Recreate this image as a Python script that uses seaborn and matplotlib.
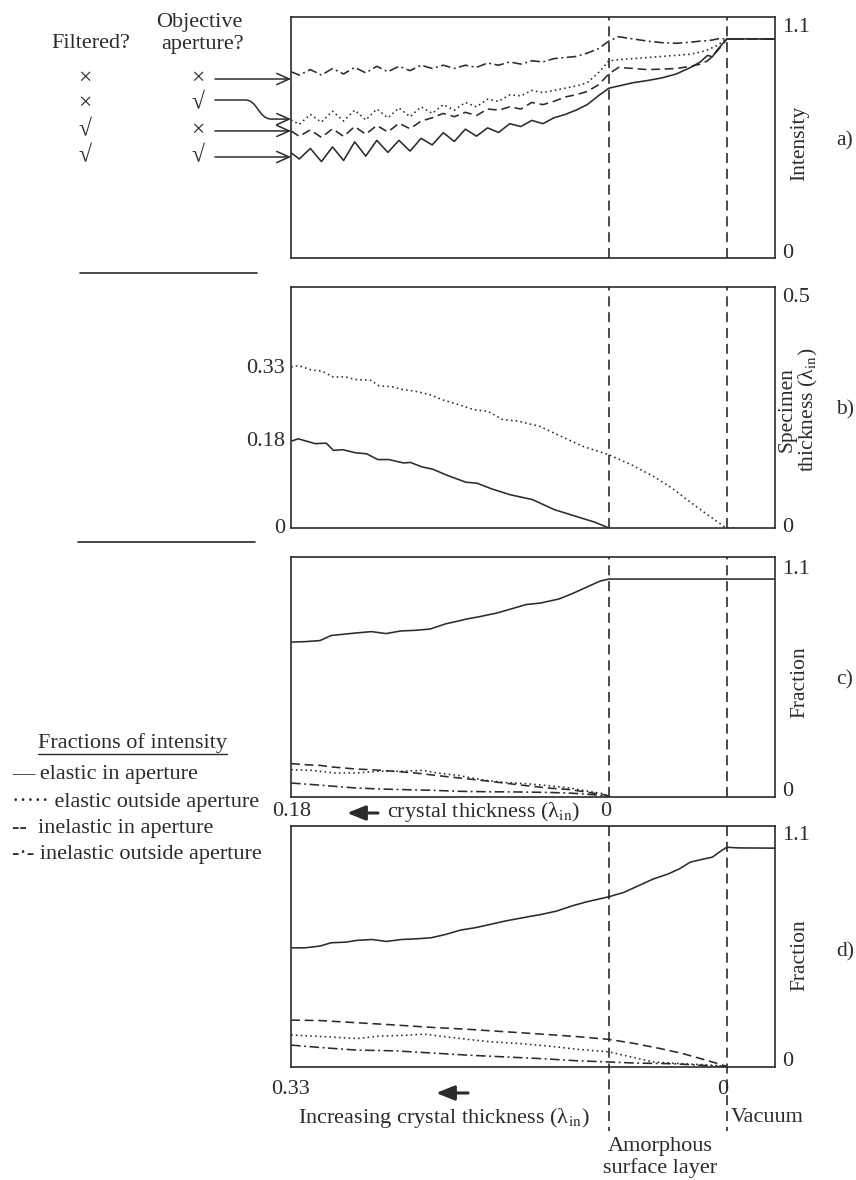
import numpy as np
import pandas as pd
import matplotlib
matplotlib.use("Agg")
import matplotlib.pyplot as plt
import seaborn as sns
from matplotlib.path import Path
from matplotlib.patches import FancyArrowPatch
from matplotlib.lines import Line2D

# ---------------- data (position across the specimen edge, arbitrary units) -------------
BOUNDARIES = [66.0, 90.5]          # crystal | amorphous layer | vacuum
X_MAX = 100.5

# Panel a: image intensity
xa = [0, 1.7, 4.0, 6.3, 8.6, 10.9, 13.2, 15.5, 17.8, 20.1, 22.4, 24.7, 27.0, 29.3, 31.6,
      33.9, 36.2, 38.5, 40.8, 43.1, 45.4, 47.7, 50.0, 52.3, 54.6, 56.9, 59.2, 61.5, 63.8,
      66.0, 68, 71, 74, 77, 80, 83, 85, 86.5, 87.5, 88.5, 89.5, 90.5, 100.5]
a_unfilt_noap = [0.85, 0.835, 0.86, 0.835, 0.865, 0.84, 0.87, 0.845, 0.875, 0.85, 0.875, 0.855,
                 0.88, 0.865, 0.88, 0.865, 0.88, 0.87, 0.89, 0.88, 0.895, 0.885, 0.90, 0.895,
                 0.91, 0.915, 0.92, 0.935, 0.955, 0.99, 1.01, 1.0, 0.99, 0.983, 0.98, 0.985,
                 0.99, 0.992, 0.995, 1.0, 1.0, 1.0, 1.0]
a_unfilt_ap = [0.63, 0.61, 0.655, 0.62, 0.67, 0.625, 0.675, 0.63, 0.68, 0.64, 0.685, 0.645,
               0.69, 0.66, 0.70, 0.675, 0.71, 0.69, 0.725, 0.715, 0.745, 0.74, 0.765, 0.755,
               0.765, 0.775, 0.785, 0.80, 0.845, 0.90, 0.905, 0.91, 0.915, 0.92, 0.925, 0.93,
               0.94, 0.95, 0.96, 0.97, 0.985, 1.0, 1.0]
a_filt_noap = [0.58, 0.555, 0.585, 0.55, 0.59, 0.555, 0.60, 0.565, 0.605, 0.575, 0.615, 0.59,
               0.625, 0.64, 0.66, 0.645, 0.665, 0.65, 0.68, 0.675, 0.69, 0.68, 0.71, 0.70,
               0.715, 0.735, 0.745, 0.76, 0.79, 0.84, 0.87, 0.865, 0.86, 0.862, 0.865, 0.875,
               0.885, 0.90, 0.92, 0.945, 0.97, 1.0, 1.0]
a_filt_ap = [0.48, 0.452, 0.50, 0.44, 0.507, 0.445, 0.53, 0.465, 0.537, 0.482, 0.537, 0.488,
             0.546, 0.516, 0.572, 0.532, 0.588, 0.556, 0.594, 0.573, 0.613, 0.60, 0.628, 0.613,
             0.64, 0.655, 0.675, 0.70, 0.74, 0.775, 0.785, 0.80, 0.81, 0.822, 0.84, 0.87,
             0.895, 0.925, 0.918, 0.95, 0.975, 1.0, 1.0]
FILTERED = ["\u00d7", "\u00d7", "\u221a", "\u221a"]
APERTURE = ["\u00d7", "\u221a", "\u00d7", "\u221a"]
ARROW_LEVELS = [0.817, 0.634, 0.58, 0.461]   # where the four arrows meet the axis

# Panel b: specimen thickness
xb_cryst = [0, 1.5, 5, 7.3, 8.8, 10.7, 13.4, 15.7, 18, 20.3, 23.3, 24.8, 27.1, 29.4, 32.5,
            36.3, 38.6, 41.7, 45.5, 50.1, 54.7, 59.2, 63.1, 66]
b_cryst = [0.18, 0.185, 0.175, 0.176, 0.161, 0.1625, 0.156, 0.154, 0.142, 0.142, 0.135,
           0.136, 0.127, 0.122, 0.109, 0.095, 0.093, 0.081, 0.069, 0.059, 0.038, 0.024,
           0.012, 0.0]
xb_total = [0, 1.5, 4.2, 6.5, 8.8, 11.1, 13.4, 16.4, 18.3, 21, 23.3, 25.6, 28.7, 31.7, 34.8,
            37.9, 40.9, 43.9, 47, 51.6, 56.1, 60.7, 66, 70.7, 75.3, 79.1, 82.2, 86, 89.8,
            90.5, 92.5]
b_total = [0.334, 0.337, 0.328, 0.325, 0.313, 0.314, 0.308, 0.307, 0.295, 0.293, 0.287,
           0.284, 0.277, 0.265, 0.256, 0.2455, 0.242, 0.225, 0.222, 0.211, 0.19, 0.169,
           0.152, 0.131, 0.107, 0.083, 0.059, 0.031, 0.004, 0.0, 0.0]
B_LEFT_TICKS = [0.33, 0.18, 0.0]
B_LEFT_LABELS = ["0.33", "0.18", "0"]

# Panel c: fractions, no amorphous layer
xc_el_in = [0, 2.9, 6, 8.3, 11.3, 13.6, 16.7, 19.7, 22.8, 25.8, 28.9, 32, 35, 36.5, 38.8,
            42.7, 45.7, 48.8, 51.8, 55.7, 58.7, 61.8, 64.1, 66, 100.5]
c_el_in = [0.71, 0.712, 0.717, 0.74, 0.747, 0.752, 0.758, 0.749, 0.761, 0.764, 0.77, 0.793,
           0.808, 0.816, 0.825, 0.843, 0.862, 0.882, 0.889, 0.908, 0.935, 0.966, 0.989,
           0.999, 0.999]
xc_in_in = [0, 2.9, 6, 8.3, 13.6, 16.7, 21.3, 25.8, 30.4, 35, 39.6, 44.2, 48.8, 53.4, 57.9,
            61.8, 64.8, 66]
c_in_in = [0.153, 0.148, 0.145, 0.138, 0.128, 0.125, 0.118, 0.11, 0.098, 0.087, 0.076, 0.064,
           0.052, 0.041, 0.034, 0.021, 0.011, 0.004]
xc_el_out = [0, 4.4, 9.0, 13.6, 18.2, 22.8, 27.4, 30.4, 35, 39.6, 44.2, 48.8, 53.4, 57.9,
             61.8, 64.8, 66]
c_el_out = [0.125, 0.122, 0.11, 0.11, 0.118, 0.118, 0.122, 0.11, 0.098, 0.079, 0.067, 0.061,
            0.052, 0.041, 0.026, 0.015, 0.004]
xc_in_out = [0, 4.4, 9.0, 13.6, 18.2, 22.8, 28.9, 35, 41.1, 47.2, 53.4, 57.9, 62.5, 66]
c_in_out = [0.064, 0.057, 0.049, 0.041, 0.037, 0.034, 0.031, 0.026, 0.024, 0.023, 0.021,
            0.018, 0.011, 0.003]

# Panel d: fractions, with amorphous layer
xd_el_in = [0, 2.9, 6, 8.3, 11.4, 13.7, 16.8, 19.8, 22.9, 26, 29.1, 32.1, 35.2, 38.3, 41.4,
            44.4, 48.3, 52.1, 55.2, 58.3, 61.4, 64.4, 66, 69.1, 72.1, 75.2, 78.3, 80.6, 82.9,
            85.2, 87.5, 89.4, 90.5, 92.9, 100.5]
d_el_in = [0.544, 0.544, 0.552, 0.567, 0.57, 0.578, 0.582, 0.573, 0.582, 0.585, 0.59, 0.605,
           0.625, 0.636, 0.651, 0.666, 0.682, 0.697, 0.712, 0.735, 0.754, 0.769, 0.777,
           0.797, 0.827, 0.858, 0.881, 0.904, 0.935, 0.947, 0.958, 0.988, 1.003, 1.0, 0.999]
xd_in_in = [0, 6, 13.7, 21.4, 29.1, 36.8, 44.4, 52.1, 59.8, 66, 71.4, 76.7, 81.4, 86.7, 90.5]
d_in_in = [0.214, 0.212, 0.202, 0.192, 0.181, 0.172, 0.161, 0.15, 0.138, 0.126, 0.107, 0.084,
           0.061, 0.028, 0.003]
xd_el_out = [0, 4.5, 9.8, 13.7, 18.3, 22.9, 27.5, 32.1, 36.8, 41.4, 47.5, 53.7, 59.8, 66,
             70.6, 75.2, 81.4, 86.7, 90.5]
d_el_out = [0.146, 0.141, 0.135, 0.13, 0.141, 0.144, 0.15, 0.138, 0.126, 0.115, 0.107, 0.095,
            0.08, 0.069, 0.046, 0.023, 0.015, 0.009, 0.003]
xd_in_out = [0, 6, 13.7, 21.4, 29.1, 36.8, 44.4, 52.1, 59.8, 66, 71.4, 79.1, 85.2, 90.5]
d_in_out = [0.10, 0.089, 0.077, 0.074, 0.064, 0.054, 0.046, 0.038, 0.028, 0.023, 0.018, 0.015,
            0.008, 0.0]

LEGEND_TITLE = "Fractions of intensity"
LEGEND_ITEMS = ["\u2014 elastic in aperture",
                "\u00b7\u00b7\u00b7\u00b7\u00b7 elastic outside aperture",
                "--  inelastic in aperture",
                "-\u00b7- inelastic outside aperture"]

# ---------------- styling ----------------
sns.set_theme(style="white")
plt.rcParams["font.family"] = ["Liberation Serif", "DejaVu Serif"]
plt.rcParams["mathtext.fontset"] = "stix"
INK = "#2b2b2b"
FS = 16
FS_ROT = 15.5
LAMBDA_IN = "(\u03bb$_{\\rm in}$)"

DASHES = {"solid": "", "dotted": (1, 2), "dashed": (5.5, 3), "dashdot": (6, 2.2, 1.2, 2.2)}

W, H = 856, 1180
fig = plt.figure(figsize=(W / 100, H / 100), dpi=100)
fig.patch.set_facecolor("white")


def fx(px):
    return px / W


def fy(py):
    return 1 - py / H


X_LEFT, X_RIGHT = 291.1, 775.0


def add_panel(top, bottom):
    return fig.add_axes([fx(X_LEFT), fy(bottom), (X_RIGHT - X_LEFT) / W, (bottom - top) / H])


def frame(long_df, ax, ymax, boundary=True):
    sns.lineplot(data=long_df, x="position", y="value", style="series", dashes=DASHES,
                 color=INK, linewidth=1.15, estimator=None, sort=False, legend=False, ax=ax)
    ax.set_xlim(0, X_MAX)
    ax.set_ylim(0, ymax)
    ax.set_xticks([])
    ax.set_yticks([])
    ax.set_xlabel("")
    ax.set_ylabel("")
    for s in ax.spines.values():
        s.set_visible(True)
        s.set_color(INK)
        s.set_linewidth(1.2)
    if boundary:
        for b in BOUNDARIES:
            ax.axvline(b, color=INK, lw=1.2, dashes=(6, 3.5))


def long(*triples):
    parts = [pd.DataFrame({"position": x, "value": y, "series": s}) for x, y, s in triples]
    return pd.concat(parts, ignore_index=True)


ax_a = add_panel(17, 258)
ax_b = add_panel(287, 528)
ax_c = add_panel(557, 797)
ax_d = add_panel(826, 1067)

frame(long((xa, a_unfilt_noap, "dashdot"), (xa, a_unfilt_ap, "dotted"),
           (xa, a_filt_noap, "dashed"), (xa, a_filt_ap, "solid")), ax_a, 1.1)
frame(long((xb_cryst, b_cryst, "solid"), (xb_total, b_total, "dotted")), ax_b, 0.5)
frame(long((xc_el_in, c_el_in, "solid"), (xc_in_in, c_in_in, "dashed"),
           (xc_el_out, c_el_out, "dotted"), (xc_in_out, c_in_out, "dashdot")), ax_c, 1.1)
frame(long((xd_el_in, d_el_in, "solid"), (xd_in_in, d_in_in, "dashed"),
           (xd_el_out, d_el_out, "dotted"), (xd_in_out, d_in_out, "dashdot")), ax_d, 1.1,
      boundary=False)
trans_d = ax_d.get_xaxis_transform()
for b in BOUNDARIES:
    ax_d.plot([b, b], [1.0, -0.265], transform=trans_d, clip_on=False, color=INK, lw=1.2,
              dashes=(6, 3.5))


def ftext(px, py, s, **kw):
    kw.setdefault("fontsize", FS)
    kw.setdefault("color", INK)
    kw.setdefault("va", "center")
    kw.setdefault("ha", "center")
    return fig.text(fx(px), fy(py), s, **kw)


# right-hand scale labels
for py, s in [(28, "1.1"), (253, "0"), (297, "0.5"), (527, "0"), (569, "1.1"), (791, "0"),
              (836, "1.1"), (1061, "0")]:
    ftext(782, py, s, ha="left")
ftext(800, 143, "Intensity", rotation=90, fontsize=FS_ROT)
ftext(799, 410, "Specimen\nthickness " + LAMBDA_IN, rotation=90, fontsize=FS_ROT,
      linespacing=1.0)
ftext(800, 682, "Fraction", rotation=90, fontsize=FS_ROT)
ftext(800, 955, "Fraction", rotation=90, fontsize=FS_ROT)
for py, s in [(141, "a)"), (410, "b)"), (680, "c)"), (952, "d)")]:
    ftext(845, py, s, fontsize=FS_ROT)

# left scale of panel b
for v, s in zip(B_LEFT_TICKS, B_LEFT_LABELS):
    ax_b.text(-0.013, v, s, transform=ax_b.get_yaxis_transform(), ha="right", va="center",
              fontsize=FS, color=INK)

# key for panel a
ftext(91, 43, "Filtered?")
ftext(199, 22, "Objective")
ftext(203, 45, "aperture?")
ROWS = [79, 104, 131, 157]
for py, f, o in zip(ROWS, FILTERED, APERTURE):
    ftext(85, py, f, fontsize=17)
    ftext(198, py, o, fontsize=17)

arrow_kw = dict(arrowstyle="->,head_length=0.45,head_width=0.2", mutation_scale=20,
                color=INK, lw=1.1)
for i, lev in enumerate(ARROW_LEVELS):
    end_disp = ax_a.transData.transform((0, lev))
    end_py = H - end_disp[1]
    end_px = end_disp[0]
    if i == 1:
        start_py = 100
        verts = [(215, start_py), (245, start_py), (258, start_py), (258, end_py),
                 (272, end_py), (end_px, end_py)]
        codes = [Path.MOVETO, Path.LINETO, Path.CURVE4, Path.CURVE4, Path.CURVE4, Path.LINETO]
        path = Path([(fx(a), fy(b)) for a, b in verts], codes)
        fig.add_artist(FancyArrowPatch(path=path, transform=fig.transFigure, **arrow_kw))
    else:
        fig.add_artist(FancyArrowPatch(posA=(fx(215), fy(end_py)), posB=(fx(end_px), fy(end_py)),
                                       transform=fig.transFigure, shrinkA=0, shrinkB=0,
                                       **arrow_kw))

# separators
fig.add_artist(Line2D([fx(80), fx(257)], [fy(273), fy(273)], color=INK, lw=1.2))
fig.add_artist(Line2D([fx(78), fx(255)], [fy(542), fy(542)], color=INK, lw=1.2))

# legend for c and d
ftext(132, 743, LEGEND_TITLE)
fig.add_artist(Line2D([fx(38), fx(227)], [fy(754), fy(754)], color=INK, lw=1.0))
for py, s in zip([775, 802, 828, 855], LEGEND_ITEMS):
    ftext(12, py, s, ha="left")

# axis annotations below c
thick_arrow = dict(arrowstyle="-|>,head_length=0.55,head_width=0.22", mutation_scale=20,
                   color=INK, lw=2.2, shrinkA=0, shrinkB=0, transform=fig.transFigure)
ftext(292, 812, "0.18")
fig.add_artist(FancyArrowPatch(posA=(fx(378), fy(813)), posB=(fx(347), fy(813)), **thick_arrow))
ftext(387, 812, "crystal thickness " + LAMBDA_IN, ha="left")
ftext(606, 812, "0")

# axis annotations below d
ftext(290, 1090, "0.33")
fig.add_artist(FancyArrowPatch(posA=(fx(468), fy(1093)), posB=(fx(436), fy(1093)), **thick_arrow))
ftext(723, 1090, "0")
ftext(298, 1118, "Increasing crystal thickness " + LAMBDA_IN, ha="left")
ftext(731, 1118, "Vacuum", ha="left")
ftext(660, 1147, "Amorphous")
ftext(660, 1168, "surface layer")

fig.savefig("out.png", dpi=100, facecolor="white")
